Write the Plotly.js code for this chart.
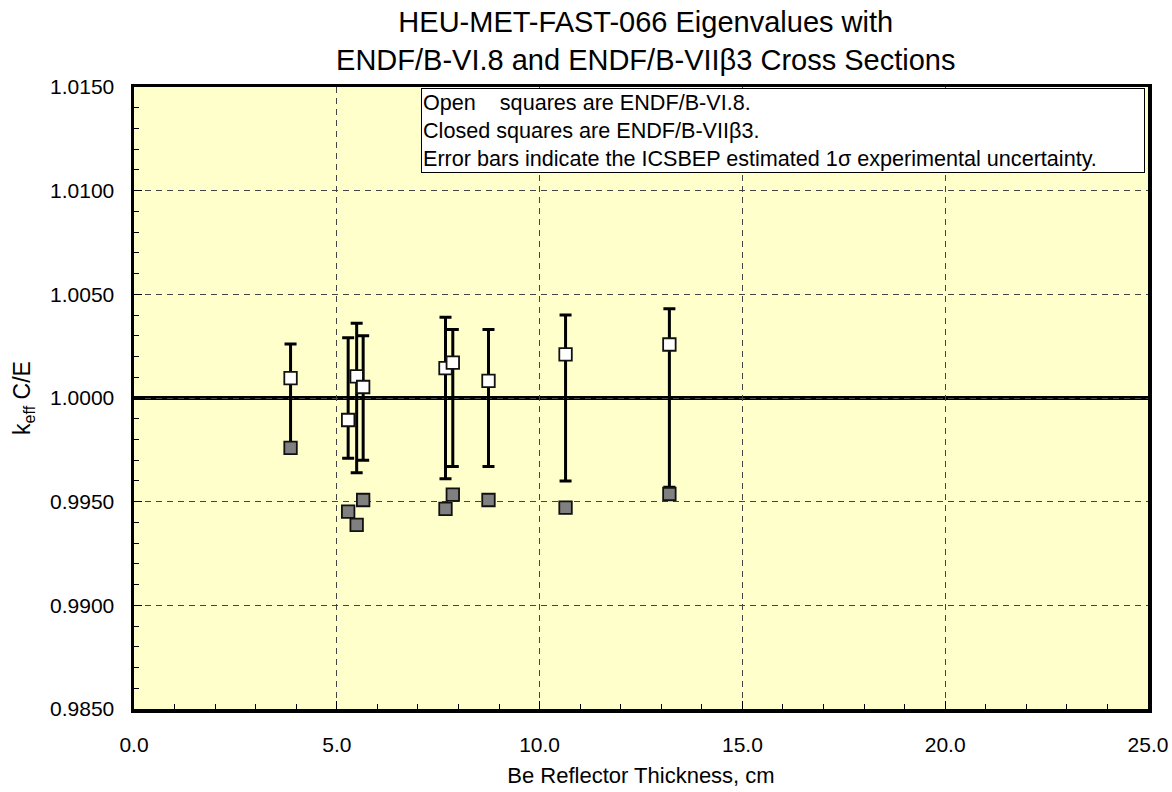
<!DOCTYPE html>
<html>
<head>
<meta charset="utf-8">
<script src="https://cdn.plot.ly/plotly-3.0.1.min.js"></script>
<style>html,body{margin:0;padding:0;background:#fff;}#chart{width:1172px;height:792px;}</style>
</head>
<body>
<div id="chart"></div>
<script>
// Be reflector thickness (cm)
const thickness = [3.86, 5.28, 5.49, 5.65, 7.68, 7.86, 8.74, 10.64, 13.20];
// C/E with ENDF/B-VI.8 (open squares)
const ceENDF68 = [1.00096, 0.99894, 1.00104, 1.00053, 1.00144, 1.00171, 1.00083, 1.00210, 1.00258];
// C/E with ENDF/B-VIIβ3 (closed squares)
const ceENDF7b3 = [0.99759, 0.99452, 0.99388, 0.99508, 0.99465, 0.99534, 0.99508, 0.99471, 0.99537];
// ICSBEP 1σ experimental uncertainty (centered on C/E = 1)
const expUnc = [0.0026, 0.0029, 0.0036, 0.0030, 0.0039, 0.0033, 0.0033, 0.0040, 0.0043];
const expValue = thickness.map(() => 1.0);

const font = "Arial, 'Liberation Sans', sans-serif";

const traces = [
  {
    x: thickness, y: expValue, type: 'scatter', mode: 'markers',
    marker: {size: 1, color: 'rgba(0,0,0,0)'},
    error_y: {type: 'data', array: expUnc, visible: true, color: '#000', thickness: 3, width: 6},
    hoverinfo: 'skip', showlegend: false
  },
  {
    x: thickness, y: ceENDF7b3, type: 'scatter', mode: 'markers', name: 'ENDF/B-VIIβ3',
    marker: {symbol: 'square', size: 12.5, color: '#808080', line: {color: '#111', width: 1.8}},
    showlegend: false
  },
  {
    x: thickness, y: ceENDF68, type: 'scatter', mode: 'markers', name: 'ENDF/B-VI.8',
    marker: {symbol: 'square', size: 12.5, color: '#ffffff', line: {color: '#111', width: 1.8}},
    showlegend: false
  }
];

const layout = {
  width: 1172, height: 792,
  margin: {l: 134, r: 24, t: 87, b: 83},
  paper_bgcolor: '#ffffff',
  plot_bgcolor: '#ffffcc',
  font: {family: font, color: '#000', size: 21},
  title: {
    text: 'HEU-MET-FAST-066 Eigenvalues with<br>ENDF/B-VI.8 and ENDF/B-VIIβ3 Cross Sections',
    font: {family: font, size: 29, color: '#000'},
    xref: 'container', x: 0.551, xanchor: 'center',
    yref: 'paper', y: 1, yanchor: 'bottom', pad: {b: 55}
  },
  xaxis: {
    range: [0, 25], dtick: 5, tick0: 0, tickformat: '.1f',
    showline: true, linecolor: '#000', linewidth: 3.5, mirror: true,
    ticks: 'inside', ticklen: 8, tickcolor: '#000', tickwidth: 1,
    showgrid: true, gridcolor: '#444', griddash: '6px,5px', gridwidth: 1,
    zeroline: false,
    minor: {dtick: 1, ticks: 'inside', ticklen: 5, tickcolor: '#000', showgrid: false},
    ticklabelstandoff: 14,
    tickfont: {family: font, size: 21, color: '#000'},
    title: {text: 'Be Reflector Thickness, cm', font: {family: font, size: 22, color: '#000'}, standoff: 14}
  },
  yaxis: {
    range: [0.985, 1.015], dtick: 0.005, tick0: 0.985, tickformat: '.4f',
    showline: true, linecolor: '#000', linewidth: 3.5, mirror: true,
    ticks: 'inside', ticklen: 8, tickcolor: '#000', tickwidth: 1,
    showgrid: true, gridcolor: '#444', griddash: '6px,5px', gridwidth: 1,
    zeroline: false,
    minor: {dtick: 0.001, ticks: 'inside', ticklen: 5, tickcolor: '#000', showgrid: false},
    ticklabelstandoff: 12,
    tickfont: {family: font, size: 21, color: '#000'},
    title: {text: 'k<sub>eff</sub> C/E', font: {family: font, size: 23, color: '#000'}, standoff: 14}
  },
  shapes: [
    {type: 'line', xref: 'paper', yref: 'y', x0: 0, x1: 1, y0: 1.0, y1: 1.0,
     line: {color: '#000', width: 4}, layer: 'below'}
  ],
  annotations: [
    {
      xref: 'paper', yref: 'paper', x: 0.2827, y: 0.999, xanchor: 'left', yanchor: 'top',
      text: 'Open&nbsp;&nbsp;&nbsp;&nbsp;squares are ENDF/B-VI.8.<br>Closed squares are ENDF/B-VIIβ3.<br>Error bars indicate the ICSBEP estimated 1σ experimental uncertainty.',
      align: 'left', showarrow: false, width: 720,
      font: {family: font, size: 21.6, color: '#000'},
      bgcolor: '#ffffff', bordercolor: '#000', borderwidth: 1, borderpad: 1
    }
  ]
};

Plotly.newPlot('chart', traces, layout, {displayModeBar: false, staticPlot: true});
</script>
</body>
</html>
